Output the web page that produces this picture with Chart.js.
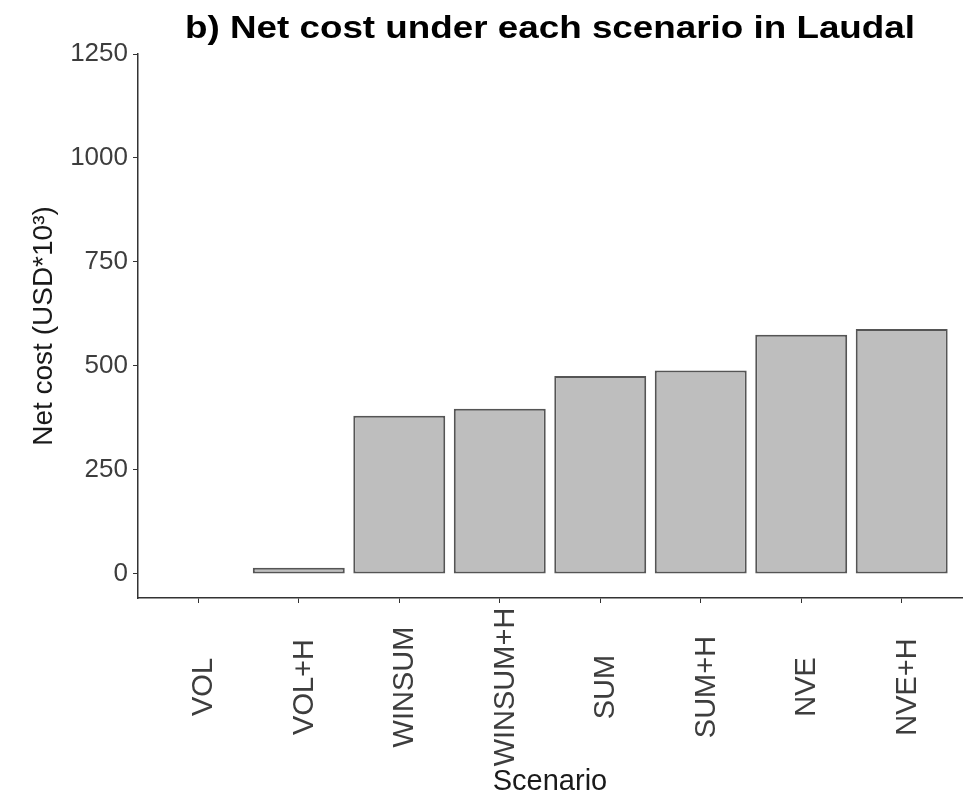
<!DOCTYPE html>
<html>
<head>
<meta charset="utf-8">
<script src="https://cdn.jsdelivr.net/npm/chart.js@4/dist/chart.umd.min.js"></script>
<style>
  html, body { margin: 0; padding: 0; background: #ffffff; }
  #wrap { width: 969px; height: 801px; }
</style>
</head>
<body>
<div id="wrap"><canvas id="chart" width="969" height="801"></canvas></div>
<script>
// Scenarios along the x axis
const categories = ['VOL', 'VOL+H', 'WINSUM', 'WINSUM+H', 'SUM', 'SUM+H', 'NVE', 'NVE+H'];
// Net cost per scenario (USD*10^3)
const netCost = [0, 15, 380, 397, 476, 489, 575, 589];
// Labelled y-axis ticks
const yTicks = [0, 250, 500, 750, 1000, 1250];
const chartTitle = 'b) Net cost under each scenario in Laudal';

const FONT = "'Liberation Sans', Arial, Helvetica, sans-serif";
const TICK_COLOR = '#3d3d3d';
const AXIS_COLOR = '#333333';

// Wide bold title centred over the plotting panel
const panelTitle = {
  id: 'panelTitle',
  afterDraw(chart) {
    const { ctx, chartArea } = chart;
    ctx.save();
    ctx.font = 'bold 32px ' + FONT;
    ctx.fillStyle = '#000000';
    ctx.textAlign = 'center';
    ctx.textBaseline = 'alphabetic';
    ctx.translate((chartArea.left + chartArea.right) / 2, 38);
    ctx.scale(1.15, 1);
    ctx.fillText(chartTitle, 0, 0);
    ctx.restore();
  }
};

// Rotated scenario names, centred on each tick below the x axis
const scenarioLabels = {
  id: 'scenarioLabels',
  afterDraw(chart) {
    const x = chart.scales.x;
    const ctx = chart.ctx;
    ctx.save();
    ctx.font = '29px ' + FONT;
    ctx.fillStyle = TICK_COLOR;
    ctx.textAlign = 'center';
    ctx.textBaseline = 'middle';
    categories.forEach((name, i) => {
      const px = x.getPixelForValue(i + 1);
      ctx.save();
      ctx.translate(px + 6, x.top + 89);
      ctx.rotate(-Math.PI / 2);
      ctx.fillText(name, 0, 0);
      ctx.restore();
    });
    ctx.restore();
  }
};

new Chart(document.getElementById('chart'), {
  type: 'bar',
  data: {
    datasets: [{
      data: netCost.map((v, i) => ({ x: i + 1, y: v })),
      backgroundColor: '#bebebe',
      borderColor: '#555555',
      borderWidth: 2,
      borderSkipped: false,
      barPercentage: 1,
      categoryPercentage: 0.915
    }]
  },
  options: {
    responsive: false,
    animation: false,
    layout: { padding: { left: 0, right: 7, top: 54, bottom: 0 } },
    plugins: {
      legend: { display: false },
      tooltip: { enabled: false },
      title: { display: false }
    },
    scales: {
      x: {
        type: 'linear',
        offset: false,
        min: 0.4,
        max: 8.6,
        afterBuildTicks: (scale) => { scale.ticks = categories.map((c, i) => ({ value: i + 1 })); },
        afterFit: (scale) => { scale.height = 203; },
        ticks: { display: false },
        grid: { display: true, offset: false, drawOnChartArea: false, drawTicks: true, tickLength: 5, color: AXIS_COLOR, lineWidth: 1 },
        border: { display: true, color: AXIS_COLOR, width: 1.5 },
        title: {
          display: true,
          text: 'Scenario',
          color: '#1a1a1a',
          font: { family: FONT, size: 29 },
          padding: { top: 0, bottom: 2 }
        }
      },
      y: {
        min: -58,
        max: 1250,
        afterBuildTicks: (scale) => { scale.ticks = yTicks.map(v => ({ value: v })); },
        afterFit: (scale) => { scale.width = 138; },
        ticks: {
          color: TICK_COLOR,
          font: { family: FONT, size: 26 },
          padding: 5,
          callback: (v) => String(v)
        },
        grid: { display: true, drawOnChartArea: false, drawTicks: true, tickLength: 5, color: AXIS_COLOR, lineWidth: 1 },
        border: { display: true, color: AXIS_COLOR, width: 1.5 },
        title: {
          display: true,
          text: 'Net cost (USD*10³)',
          color: '#1a1a1a',
          font: { family: FONT, size: 28 },
          padding: { top: 27, bottom: 0 }
        }
      }
    }
  },
  plugins: [scenarioLabels, panelTitle]
});
</script>
</body>
</html>
